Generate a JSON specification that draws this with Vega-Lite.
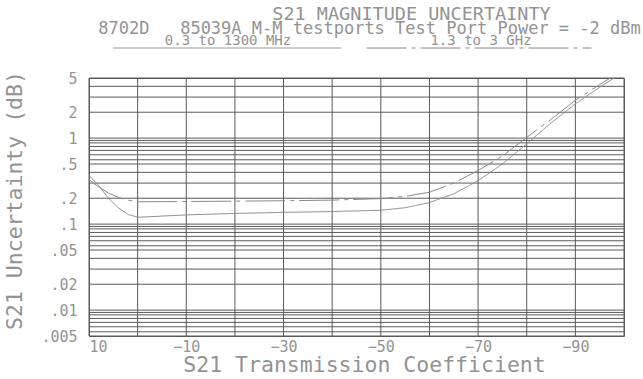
{
  "$schema": "https://vega.github.io/schema/vega-lite/v6.json",
  "width": 535,
  "height": 258,
  "autosize": "none",
  "padding": {"left": 89, "top": 78, "right": 19, "bottom": 43},
  "background": "white",
  "config": {
    "view": {"stroke": "#5a5a5a", "strokeWidth": 1},
    "font": "DejaVu Sans Mono"
  },
  "title": {
    "text": "\u2800\u2800\u2800\u2800\u2800\u2800S21 MAGNITUDE UNCERTAINTY",
    "subtitle": "8702D\u00a0\u00a0\u00a085039A M-M testports Test Port Power = -2 dBm",
    "anchor": "middle",
    "frame": "group",
    "dx": 13,
    "offset": 3,
    "font": "DejaVu Sans Mono",
    "fontSize": 18.5,
    "fontWeight": "normal",
    "color": "#939393",
    "subtitleFont": "DejaVu Sans Mono",
    "subtitleFontSize": 17,
    "subtitleColor": "#939393",
    "subtitlePadding": -2
  },
  "datasets": {
    "hgrid": [
      {"v": 5}, {"v": 4}, {"v": 3}, {"v": 2}, {"v": 1}, {"v": 0.94}, {"v": 0.88}, {"v": 0.8}, {"v": 0.72}, {"v": 0.64}, {"v": 0.56},
      {"v": 0.5}, {"v": 0.4}, {"v": 0.3}, {"v": 0.2}, {"v": 0.1}, {"v": 0.094}, {"v": 0.088}, {"v": 0.08}, {"v": 0.072}, {"v": 0.064}, {"v": 0.056},
      {"v": 0.05}, {"v": 0.04}, {"v": 0.03}, {"v": 0.02}, {"v": 0.01}, {"v": 0.0094}, {"v": 0.0088}, {"v": 0.008}, {"v": 0.0072}, {"v": 0.0064}, {"v": 0.0056},
      {"v": 0.005}
    ],
    "vgrid": [
      {"v": 10}, {"v": 0}, {"v": -10}, {"v": -20}, {"v": -30}, {"v": -40}, {"v": -50}, {"v": -60}, {"v": -70}, {"v": -80}, {"v": -90}, {"v": -100}
    ],
    "curves": [
      {"band": "0.3 to 1300 MHz", "x": 10, "y": 0.37},
      {"band": "0.3 to 1300 MHz", "x": 8, "y": 0.28},
      {"band": "0.3 to 1300 MHz", "x": 6, "y": 0.2},
      {"band": "0.3 to 1300 MHz", "x": 4, "y": 0.155},
      {"band": "0.3 to 1300 MHz", "x": 2, "y": 0.13},
      {"band": "0.3 to 1300 MHz", "x": 0, "y": 0.12},
      {"band": "0.3 to 1300 MHz", "x": -10, "y": 0.128},
      {"band": "0.3 to 1300 MHz", "x": -20, "y": 0.133},
      {"band": "0.3 to 1300 MHz", "x": -30, "y": 0.137},
      {"band": "0.3 to 1300 MHz", "x": -40, "y": 0.14},
      {"band": "0.3 to 1300 MHz", "x": -50, "y": 0.145},
      {"band": "0.3 to 1300 MHz", "x": -55, "y": 0.155},
      {"band": "0.3 to 1300 MHz", "x": -60, "y": 0.178},
      {"band": "0.3 to 1300 MHz", "x": -65, "y": 0.225},
      {"band": "0.3 to 1300 MHz", "x": -70, "y": 0.32},
      {"band": "0.3 to 1300 MHz", "x": -75, "y": 0.5},
      {"band": "0.3 to 1300 MHz", "x": -80, "y": 0.86},
      {"band": "0.3 to 1300 MHz", "x": -85, "y": 1.5},
      {"band": "0.3 to 1300 MHz", "x": -90, "y": 2.5},
      {"band": "0.3 to 1300 MHz", "x": -95, "y": 3.9},
      {"band": "0.3 to 1300 MHz", "x": -98, "y": 5.0},
      {"band": "1.3 to 3 GHz", "x": 10, "y": 0.33},
      {"band": "1.3 to 3 GHz", "x": 8, "y": 0.27},
      {"band": "1.3 to 3 GHz", "x": 6, "y": 0.23},
      {"band": "1.3 to 3 GHz", "x": 4, "y": 0.205},
      {"band": "1.3 to 3 GHz", "x": 2, "y": 0.19},
      {"band": "1.3 to 3 GHz", "x": 0, "y": 0.182},
      {"band": "1.3 to 3 GHz", "x": -10, "y": 0.183},
      {"band": "1.3 to 3 GHz", "x": -20, "y": 0.185},
      {"band": "1.3 to 3 GHz", "x": -30, "y": 0.187},
      {"band": "1.3 to 3 GHz", "x": -40, "y": 0.19},
      {"band": "1.3 to 3 GHz", "x": -50, "y": 0.198},
      {"band": "1.3 to 3 GHz", "x": -55, "y": 0.21},
      {"band": "1.3 to 3 GHz", "x": -60, "y": 0.235},
      {"band": "1.3 to 3 GHz", "x": -65, "y": 0.3},
      {"band": "1.3 to 3 GHz", "x": -70, "y": 0.42},
      {"band": "1.3 to 3 GHz", "x": -75, "y": 0.62},
      {"band": "1.3 to 3 GHz", "x": -80, "y": 1.02},
      {"band": "1.3 to 3 GHz", "x": -85, "y": 1.65},
      {"band": "1.3 to 3 GHz", "x": -90, "y": 2.75},
      {"band": "1.3 to 3 GHz", "x": -95, "y": 4.2},
      {"band": "1.3 to 3 GHz", "x": -97.2, "y": 5.0}
    ]
  },
  "layer": [
    {
      "data": {"name": "hgrid"},
      "mark": {"type": "rule", "color": "#5a5a5a", "strokeWidth": 1},
      "encoding": {
        "y": {
          "field": "v", "type": "quantitative",
          "scale": {"type": "log", "domain": [0.005, 5], "nice": false},
          "axis": {
            "values": [5, 2, 1, 0.5, 0.2, 0.1, 0.05, 0.02, 0.01, 0.005],
            "format": "~g",
            "labelExpr": "datum.value < 1 ? substring(datum.label, 1) : datum.label",
            "ticks": false, "domain": false, "grid": false,
            "labelPadding": 12, "labelFont": "DejaVu Sans Mono", "labelFontSize": 15, "labelColor": "#939393",
            "title": "S21 Uncertainty (dB)",
            "titleFont": "DejaVu Sans Mono", "titleFontSize": 21.5, "titleFontWeight": "normal", "titleColor": "#939393", "titlePadding": 14,
            "titleY": 122
          }
        }
      }
    },
    {
      "data": {"name": "vgrid"},
      "mark": {"type": "rule", "color": "#5a5a5a", "strokeWidth": 1},
      "encoding": {
        "x": {
          "field": "v", "type": "quantitative",
          "scale": {"domain": [10, -100], "nice": false, "zero": false},
          "axis": {
            "values": [10, -10, -30, -50, -70, -90],
            "ticks": false, "domain": false, "grid": false,
            "labelPadding": 3, "labelFont": "DejaVu Sans Mono", "labelFontSize": 15, "labelColor": "#939393",
            "title": "S21 Transmission Coefficient",
            "titleFont": "DejaVu Sans Mono", "titleFontSize": 21.5, "titleFontWeight": "normal", "titleColor": "#939393", "titlePadding": 0,
            "titleX": 275
          }
        }
      }
    },
    {
      "data": {"name": "curves"},
      "mark": {"type": "line", "color": "#8a8a8a", "strokeWidth": 1, "clip": true},
      "encoding": {
        "x": {"field": "x", "type": "quantitative", "scale": {"domain": [10, -100], "nice": false, "zero": false}},
        "y": {"field": "y", "type": "quantitative", "scale": {"type": "log", "domain": [0.005, 5], "nice": false}},
        "strokeDash": {
          "field": "band", "type": "nominal",
          "scale": {"domain": ["0.3 to 1300 MHz", "1.3 to 3 GHz"], "range": [[1, 0], [40, 5, 4, 5]]},
          "legend": {
            "orient": "none", "legendX": 24, "legendY": -38,
            "direction": "horizontal", "title": null,
            "symbolType": "stroke", "symbolSize": 51984, "symbolStrokeWidth": 1, "symbolStrokeColor": "#8a8a8a",
            "clipHeight": 16,
            "labelExpr": "datum.label == '1.3 to 3 GHz' ? pad(datum.label, 24, '\u2800', 'center') : pad(datum.label, 25, '\u2800', 'center')",
            "labelAlign": "center", "labelOffset": -114, "labelBaseline": "bottom",
            "labelFont": "DejaVu Sans Mono", "labelFontSize": 14, "labelColor": "#939393",
            "columnPadding": 24, "labelLimit": 0
          }
        }
      }
    }
  ]
}
